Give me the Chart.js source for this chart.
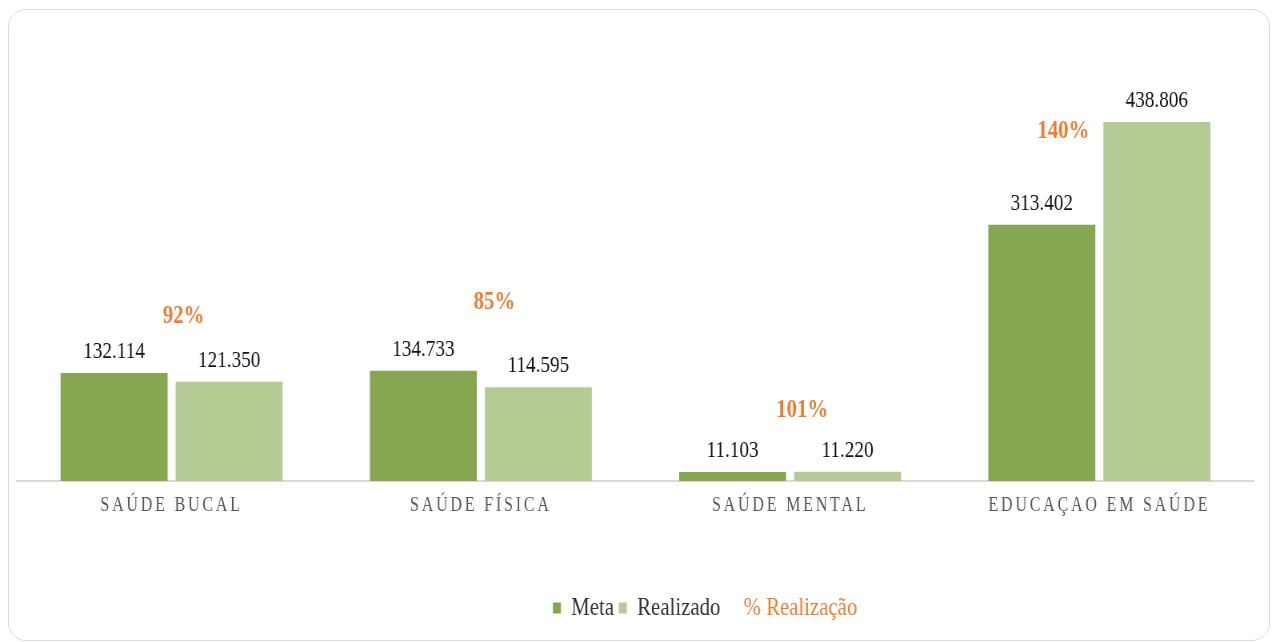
<!DOCTYPE html>
<html>
<head>
<meta charset="utf-8">
<script src="https://cdn.jsdelivr.net/npm/chart.js"></script>
<style>
    html, body { margin: 0; padding: 0; background: #fff; overflow: hidden; }
    #card { position: absolute; left: 8px; top: 9px; width: 1260px; height: 630px; border: 1.5px solid #dcdcdc; border-radius: 18px; }
    /* o original é levemente comprimido na horizontal */
    #wrap { position: absolute; left: 0; top: 0; width: 1595px; height: 642px; transform: scaleX(0.8); transform-origin: 0 0; }
</style>
</head>
<body>
<div id="card"></div>
<div id="wrap"><canvas id="grafico"></canvas></div>
<script>
const categorias = ['SAÚDE BUCAL', 'SAÚDE FÍSICA', 'SAÚDE MENTAL', 'EDUCAÇAO EM SAÚDE'];
const meta = [132114, 134733, 11103, 313402];
const realizado = [121350, 114595, 11220, 438806];
const pctRealizacao = [92, 85, 101, 140];
const eixoMax = 500000;

const serif = "'Liberation Serif'";
const laranja = '#ED7D31';

// ajuste manual dos rótulos de % (dx a partir do centro da categoria, dy a partir do topo da barra Meta)
const ajustePct = [[15, -50], [17, -62], [15, -55], [-45, -87]];

const fmt = v => String(v).replace(/\B(?=(\d{3})+(?!\d))/g, '.');

const rotulos = {
    id: 'rotulos',
    beforeDraw(chart) {
        // espaçamento entre letras nos nomes das categorias
        const s = chart.scales.x;
        if (!s._espacado) {
            const orig = s.drawLabels;
            s.drawLabels = function (area) {
                this.ctx.save();
                this.ctx.letterSpacing = '3.5px';
                orig.call(this, area);
                this.ctx.letterSpacing = '0px';
                this.ctx.restore();
            };
            s._espacado = true;
        }
    },
    afterLayout(chart) {
        // legenda um pouco à direita, como no original
        chart.legend.left += 87;
        chart.legend.right += 87;
    },
    afterDatasetsDraw(chart) {
        const ctx = chart.ctx;
        ctx.save();
        ctx.textAlign = 'center';
        ctx.textBaseline = 'alphabetic';
        ctx.font = '24px ' + serif;
        ctx.fillStyle = '#111';
        [0, 1].forEach(d => {
            chart.getDatasetMeta(d).data.forEach((bar, i) => {
                ctx.fillText(fmt(chart.data.datasets[d].data[i]), bar.x, bar.y - 15);
            });
        });
        ctx.font = 'bold 26px ' + serif;
        ctx.fillStyle = laranja;
        const pts = chart.getDatasetMeta(2).data;
        chart.getDatasetMeta(0).data.forEach((bar, i) => {
            ctx.fillText(pctRealizacao[i] + '%', pts[i].x + ajustePct[i][0], bar.y + ajustePct[i][1]);
        });
        ctx.restore();
    }
};

const ctx = document.getElementById('grafico').getContext('2d');
new Chart(ctx, {
    type: 'bar',
    data: {
        labels: categorias,
        datasets: [
            {
                label: 'Meta',
                data: meta,
                backgroundColor: '#87A650',
                categoryPercentage: 0.744,
                barPercentage: 0.93
            },
            {
                label: 'Realizado',
                data: realizado,
                backgroundColor: '#B5CB93',
                categoryPercentage: 0.744,
                barPercentage: 0.93
            },
            {
                type: 'line',
                label: '% Realização',
                data: pctRealizacao,
                yAxisID: 'y2',
                showLine: false,
                pointRadius: 0,
                pointHoverRadius: 0,
                backgroundColor: laranja,
                borderColor: laranja
            }
        ]
    },
    options: {
        responsive: true,
        maintainAspectRatio: false,
        animation: false,
        events: [],
        layout: { padding: { top: 72, left: 21.25, right: 27.5, bottom: 11 } },
        plugins: {
            tooltip: { enabled: false },
            legend: {
                position: 'bottom',
                labels: {
                    boxWidth: 10,
                    boxHeight: 11,
                    padding: 6,
                    color: '#333',
                    font: { family: serif, size: 26 },
                    generateLabels(chart) {
                        const items = Chart.defaults.plugins.legend.labels.generateLabels(chart);
                        items.forEach(it => { it.lineWidth = 0; it.strokeStyle = 'rgba(0,0,0,0)'; });
                        items[2].fillStyle = 'rgba(0,0,0,0)';
                        items[2].fontColor = laranja;
                        return items;
                    }
                }
            }
        },
        scales: {
            x: {
                grid: { display: false, drawTicks: false },
                border: { color: '#d9d9d9', width: 2 },
                ticks: {
                    color: '#555',
                    font: { family: serif, size: 20 },
                    padding: 13,
                    maxRotation: 0,
                    autoSkip: false
                },
                afterFit(s) { s.height = 108; }
            },
            y: {
                display: false,
                min: 0,
                max: eixoMax
            },
            y2: {
                display: false,
                min: 0,
                max: 200
            }
        }
    },
    plugins: [rotulos]
});
</script>
</body>
</html>
